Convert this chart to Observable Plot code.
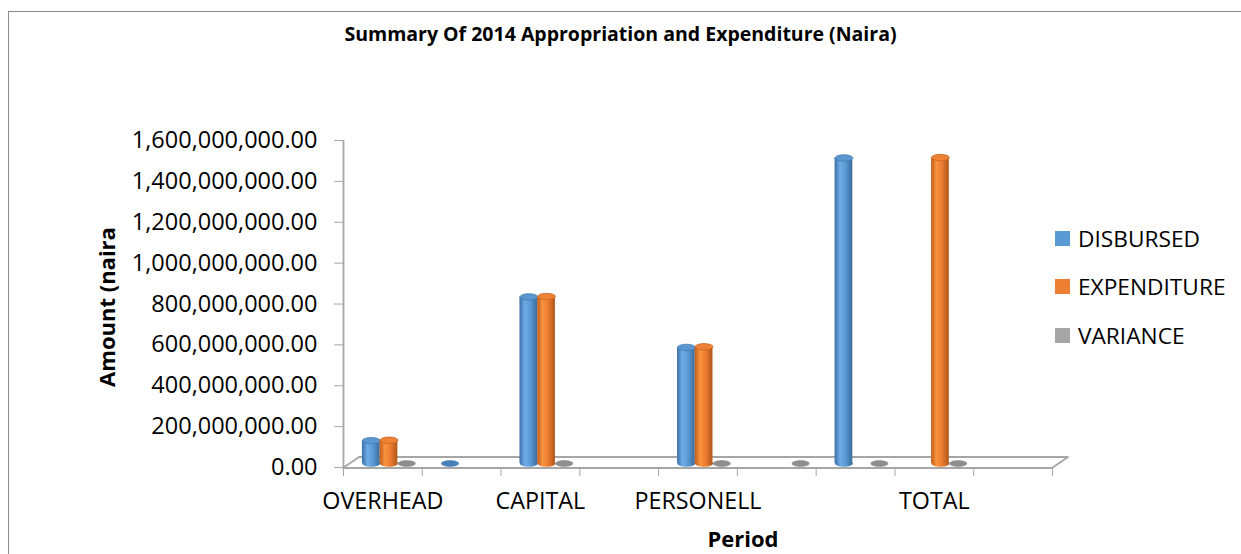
<!DOCTYPE html>
<html>
<head>
<meta charset="utf-8">
<script src="https://cdn.jsdelivr.net/npm/d3@7"></script>
<script src="https://cdn.jsdelivr.net/npm/@observablehq/plot@0.6"></script>
<style>
html, body { margin: 0; padding: 0; background: #fff; overflow: hidden; width: 1241px; height: 554px; }
body { position: relative; font-family: "Open Sans", sans-serif; color: #000; }
#border { position: absolute; left: 8px; top: 11px; width: 1400px; height: 700px; border: 1.5px solid #8a8a8a; box-sizing: border-box; }
#title { position: absolute; left: 0; width: 1241px; top: 20px; text-align: center; font-weight: bold; font-size: 19.5px; line-height: normal; white-space: nowrap; }
#chart { position: absolute; left: 0; top: 60px; }
#legend { position: absolute; left: 1055px; top: 214px; }
.item { display: flex; align-items: center; height: 48.5px; font-size: 22.7px; white-space: nowrap; }
.sw { width: 15px; height: 15px; margin-right: 8px; flex: none; }
</style>
</head>
<body>
<svg width="0" height="0" style="position:absolute">
  <defs>
    <linearGradient id="g0" x1="0" x2="1" y1="0" y2="0">
      <stop offset="0" stop-color="#3a70a6"/>
      <stop offset="0.3" stop-color="#6eace6"/>
      <stop offset="0.6" stop-color="#5b9bd5"/>
      <stop offset="1" stop-color="#3b6c9c"/>
    </linearGradient>
    <linearGradient id="g1" x1="0" x2="1" y1="0" y2="0">
      <stop offset="0" stop-color="#c05c1c"/>
      <stop offset="0.3" stop-color="#f9943f"/>
      <stop offset="0.6" stop-color="#ed7d31"/>
      <stop offset="1" stop-color="#b0561b"/>
    </linearGradient>
    <linearGradient id="g2" x1="0" x2="1" y1="0" y2="0">
      <stop offset="0" stop-color="#7f7f7f"/>
      <stop offset="0.3" stop-color="#bdbdbd"/>
      <stop offset="0.6" stop-color="#a5a5a5"/>
      <stop offset="1" stop-color="#7a7a7a"/>
    </linearGradient>
  </defs>
</svg>
<div id="border"></div>
<div id="title">Summary Of 2014 Appropriation and Expenditure (Naira)</div>
<div id="chart"></div>
<div id="legend"></div>
<script>
// ---- data ----
const categories = ["OVERHEAD", "", "CAPITAL", "", "PERSONELL", "", "", "TOTAL", ""];
const seriesNames = ["DISBURSED", "EXPENDITURE", "VARIANCE"];
const disbursed   = [112e6, 0, 815e6, null, 568e6, null, 1495e6, null, null];
const expenditure = [114e6, null, 817e6, null, 571e6, null, null, 1497e6, null];
const variance    = [0, null, 0, null, 0, 0, 0, 0, null];
const yTicks = [0, 200e6, 400e6, 600e6, 800e6, 1000e6, 1200e6, 1400e6, 1600e6];
const yLabel = "Amount (naira";
const xLabel = "Period";

// ---- styling ----
const bodyFill = ["url(#g0)", "url(#g1)", "url(#g2)"];
const topFill = ["#5a97d0", "#ee8234", "#a5a5a5"];
const topStroke = ["#3f74a8", "#c0611f", "#858585"];
const zeroFill = ["#4a80b8", "#d06a25", "#8e8e8e"];
const swatch = ["#5b9bd5", "#ed7d31", "#a5a5a5"];

const seriesValues = [disbursed, expenditure, variance];
const rows = seriesValues.flatMap((vals, s) =>
  vals.map((v, i) => ({i, s, value: v})).filter(d => d.value !== null));

const slotW = 0.225, start = 0.24;
const fx1 = d => d.i + start + d.s * slotW;
const fx2 = d => fx1(d) + slotW;
const fxc = d => fx1(d) + slotW / 2;

// elliptical symbol for cylinder caps
const ellipse = {
  draw(ctx) {
    const rx = 8.9, ry = 3.2, k = 0.5523;
    ctx.moveTo(rx, 0);
    ctx.bezierCurveTo(rx, ry * k, rx * k, ry, 0, ry);
    ctx.bezierCurveTo(-rx * k, ry, -rx, ry * k, -rx, 0);
    ctx.bezierCurveTo(-rx, -ry * k, -rx * k, -ry, 0, -ry);
    ctx.bezierCurveTo(rx * k, -ry, rx, -ry * k, rx, 0);
    ctx.closePath();
  }
};

function floor(index, scales) {
  const x0 = scales.x(0), x9 = scales.x(categories.length), y0 = scales.y(0) + 1;
  const ox = 16, oy = -11;
  return d3.create("svg:path")
    .attr("d", `M${x0},${y0}L${x9},${y0}L${x9 + ox},${y0 + oy}L${x0 + ox},${y0 + oy}Z`)
    .attr("fill", "#fff").attr("stroke", "#a6a6a6").attr("stroke-width", 1.8)
    .attr("stroke-linejoin", "round")
    .node();
}

const seriesMarks = [0, 1, 2].flatMap(s => {
  const pos = rows.filter(d => d.s === s && d.value > 0);
  const zero = rows.filter(d => d.s === s && d.value === 0);
  return [
    Plot.dot(pos, {x: fxc, y: () => 0, symbol: ellipse, fill: bodyFill[s], dy: -4}),
    Plot.rectY(pos, {x1: fx1, x2: fx2, y1: () => 0, y2: "value", fill: bodyFill[s], dy: -4}),
    Plot.dot(pos, {x: fxc, y: "value", symbol: ellipse, fill: topFill[s], stroke: topStroke[s], strokeWidth: 0.7, dy: -4}),
    Plot.dot(zero, {x: fxc, y: "value", symbol: ellipse, fill: zeroFill[s], dy: -4})
  ];
});

const chart = Plot.plot({
  width: 1241,
  height: 494,
  marginLeft: 343,
  marginRight: 189,
  marginTop: 80,
  marginBottom: 87,
  style: {fontFamily: "'Open Sans', sans-serif", fontSize: "23.5px", color: "#000", background: "transparent", overflow: "visible"},
  x: {domain: [0, categories.length]},
  y: {domain: [0, 1600e6]},
  marks: [
    floor,
    Plot.ruleX([0], {y1: 0, y2: 1600e6, stroke: "#a6a6a6", strokeWidth: 1.8}),
    Plot.axisY({ticks: yTicks, tickFormat: d3.format(",.2f"), tickSize: 9, tickPadding: 17, label: null, stroke: "#a6a6a6", fill: "#000", fontSize: 23.5}),
    Plot.axisX({ticks: d3.range(categories.length + 1), tickSize: 9, tickFormat: () => "", label: null, stroke: "#a6a6a6"}),
    Plot.axisX({ticks: d3.range(categories.length).map(i => i + 0.5), tickSize: 0, tickPadding: 25, tickFormat: d => categories[Math.floor(d)], label: null, fill: "#000", fontSize: 23.3}),
    ...seriesMarks,
    Plot.text([yLabel], {frameAnchor: "left", textAnchor: "middle", rotate: -90, dx: -236, dy: 3, fontWeight: "bold", fontSize: 22, fill: "#000"}),
    Plot.text([xLabel], {frameAnchor: "bottom", dx: 45, dy: 79, fontWeight: "bold", fontSize: 22, fill: "#000"})
  ]
});
document.getElementById("chart").appendChild(chart);

// legend
const legend = d3.select("#legend");
seriesNames.forEach((name, s) => {
  const item = legend.append("div").attr("class", "item");
  item.append("div").attr("class", "sw").style("background", swatch[s]);
  item.append("span").text(name);
});
</script>
</body>
</html>
